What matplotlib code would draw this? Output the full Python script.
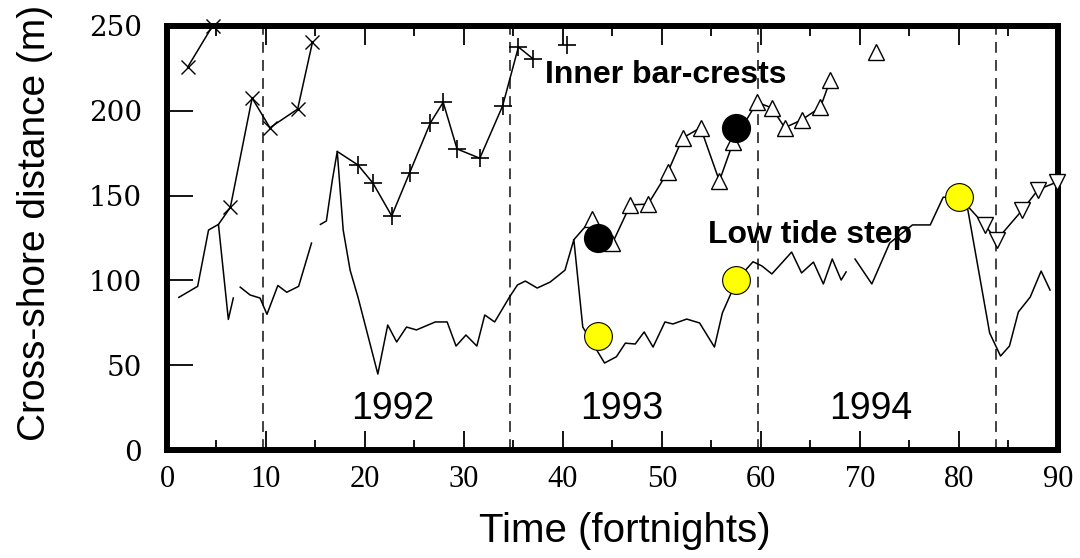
import numpy as np
import matplotlib.pyplot as plt

nan = np.nan

# low tide step / shoreline trace (NaN = gap in the record)
low_t = [1.2, 3.1, 4.2, 5.2, 6.2, 6.7, nan,
         7.4, 8.4, 9.4, 10.1, 11.2, 12.1, 13.3, 14.6, nan,
         15.5, 16.1, 16.7, 17.2, 17.8, 18.5, 19.3, 21.3, 22.3, 23.2, 24.2, 25.2,
         27.1, 28.3, 29.2, 30.2, 31.3, 32.1, 33.1, 34.6, 35.4, 36.2, 37.4, 38.7,
         40.2, 41.1, 42.0, 44.2, 45.4, 46.3, 47.3, 48.2, 49.1, 50.3, 51.1, 52.5,
         53.8, 55.3, 56.1, 56.9, 57.5, 59.2, 60.1, 61.1, 63.1, 64.1, 65.3, 66.3,
         67.2, 68.1, 68.6, nan,
         69.5, 71.2, 73.0, 75.3, 77.1, 78.4, 80.0, 80.9, 83.1, 84.2, 85.1, 86.0,
         87.2, 88.3, 89.2]
low_d = [90, 96.5, 129.7, 133, 77, 89.6, nan,
         96, 91.4, 89.6, 80, 97, 93, 96.5, 122, nan,
         133, 135, 159, 176, 129.7, 106, 90, 44.8, 73.7, 63.7, 72.5, 70.8,
         75.5, 75.5, 61.3, 67.8, 61.3, 79.6, 75.5, 90.2, 97.3, 99.6, 95.5, 99,
         106, 124, 72.5, 51.3, 55, 63, 62.5, 69.6, 60.7, 75.5, 74.3, 77.2,
         74.9, 60.7, 80.8, 91.4, 100, 111, 108.5, 103.8, 116.7, 104.4, 110.8, 97.9,
         112.6, 100.2, 105, nan,
         112.6, 97.9, 122, 132.7, 132.7, 149, 149.4, 141.5, 69, 55.4, 61.3, 81.4,
         90.2, 105.5, 94.3]

# bar crest traces ("x" markers, 1992 start)
xa_t = [2.1, 4.6]
xa_d = [225.8, 250]
xb_t = [5.2, 6.4, 8.6, 10.4, 13.2, 14.7]
xb_d = [133, 143, 207.5, 190, 201, 240.5]

# "+" markers
plus_t = [17.2, 19.3, 20.8, 22.7, 24.5, 26.6, 27.9, 29.3, 31.6, 33.9, 35.5, 37.0]
plus_d = [176, 168, 157.4, 138, 163.3, 192.8, 205, 177.5, 172, 202.8, 237.6, 230.5]
plus_lone_t = [40.4]
plus_lone_d = [238.8]

# inner bar-crest (triangles)
tri_t = [41.1, 42.9, 45.0, 46.8, 48.6, 50.6, 52.1, 53.9, 55.8, 57.2, 59.6,
         61.1, 62.4, 64.1, 66.0, 67.0]
tri_d = [124, 136, 122, 144.5, 145, 164, 184, 190, 158.6, 181.6, 205,
         201.7, 190, 194.6, 202, 218]
tri_lone_t = [71.6]
tri_lone_d = [234.7]

tri2_t = [80.0, 82.6, 83.8, 86.4, 88.0, 89.9]
tri2_d = [149.4, 132.7, 123.8, 141.5, 153.5, 158]

# highlighted points
black_t = [43.5, 57.5]
black_d = [125, 190]
yellow_t = [43.5, 57.5, 80.0]
yellow_d = [67.4, 100.2, 149.4]

year_breaks = [9.7, 34.65, 59.7, 83.7]
year_labels = ['1992', '1993', '1994']
year_pos = [22.8, 45.9, 71.1]

fig = plt.figure(figsize=(10.8, 5.58), dpi=100)
fig.patch.set_facecolor('white')
ax = fig.add_axes([0.1546, 0.1935, 0.825, 0.760])

for xb in year_breaks:
    ax.axvline(xb, color='#333333', linestyle=(0, (6, 4)), linewidth=1.3, zorder=1)

lw = 1.1
ax.plot(low_t, low_d, color='black', linewidth=lw, zorder=2)

ax.plot(xa_t, xa_d, color='black', linewidth=lw, marker='x', markersize=10,
        markeredgewidth=1.0, clip_on=False, zorder=3)
ax.plot(xb_t, xb_d, color='black', linewidth=lw, marker='x', markersize=10,
        markeredgewidth=1.0, markevery=slice(1, None), zorder=3)

ax.plot(plus_t, plus_d, color='black', linewidth=lw, marker='+', markersize=13,
        markeredgewidth=1.2, markevery=slice(1, None), zorder=3)
ax.plot(plus_lone_t, plus_lone_d, linestyle='none', color='black', marker='+',
        markersize=13, markeredgewidth=1.2, zorder=3)

tri_style = dict(markersize=11, markerfacecolor='white', markeredgecolor='black',
                 markeredgewidth=1.0)
ax.plot(tri_t, tri_d, color='black', linewidth=lw, marker='^',
        markevery=slice(1, None), zorder=3, **tri_style)
ax.plot(tri_lone_t, tri_lone_d, linestyle='none', marker='^', zorder=3, **tri_style)
ax.plot(tri2_t, tri2_d, color='black', linewidth=lw, marker='v',
        markevery=slice(1, None), clip_on=False, zorder=3, **tri_style)

ax.plot(black_t, black_d, linestyle='none', marker='o', markersize=20,
        markerfacecolor='black', markeredgecolor='black', zorder=5)
ax.plot(yellow_t, yellow_d, linestyle='none', marker='o', markersize=20,
        markerfacecolor='#ffff00', markeredgecolor='black', markeredgewidth=0.8, zorder=5)

ax.text(38.2, 221, 'Inner bar-crests', fontsize=23, fontweight='bold',
        family='Liberation Sans', va='center', ha='left')
ax.text(54.6, 126.8, 'Low tide step', fontsize=23, fontweight='bold',
        family='Liberation Sans', va='center', ha='left')
for lab, xp in zip(year_labels, year_pos):
    ax.text(xp, 24, lab, fontsize=27, family=['Liberation Sans Narrow', 'Liberation Sans'],
            ha='center', va='center')

ax.set_xlim(0, 90)
ax.set_ylim(0, 250)
ax.set_xticks(np.arange(0, 91, 10))
ax.set_xticks(np.arange(5, 90, 10), minor=True)
ax.set_yticks(np.arange(0, 251, 50))
ax.tick_params(axis='x', which='major', direction='in', length=14, width=1.3,
               top=True, pad=11, labelsize=22)
ax.tick_params(axis='x', which='minor', direction='in', length=7, width=1.3, top=True)
ax.tick_params(axis='y', which='major', direction='in', length=19, width=1.3,
               right=False, pad=18, labelsize=20)
for lab in ax.get_xticklabels():
    lab.set_family('Liberation Serif')
for lab in ax.get_yticklabels():
    lab.set_family('DejaVu Serif')

for sp in ax.spines.values():
    sp.set_linewidth(4.3)

ax.set_xlabel('Time (fortnights)', fontsize=29,
              family=['Liberation Sans Narrow', 'Liberation Sans'])
ax.xaxis.set_label_coords(0.514, -0.145)
ax.set_ylabel('Cross-shore distance (m)', fontsize=28, family='Liberation Sans')
ax.yaxis.set_label_coords(-0.128, 0.535)

fig.savefig('out.png', dpi=100)
